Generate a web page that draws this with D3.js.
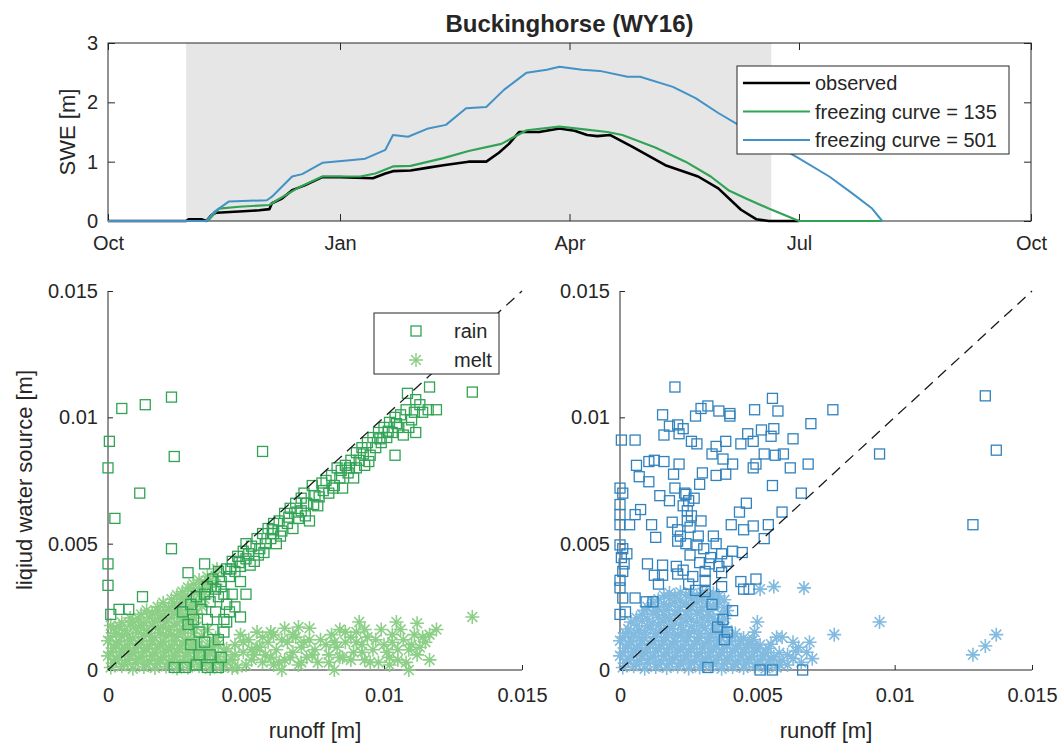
<!DOCTYPE html>
<html>
<head>
<meta charset="utf-8">
<script src="https://cdn.jsdelivr.net/npm/d3@7"></script>
<style>
body { margin: 0; background: #fff; }
svg text { font-family: "Liberation Sans", Arial, Helvetica, sans-serif; fill: #262626; }
</style>
</head>
<body>
<svg id="chart" width="1063" height="743"></svg>
<script>
// ---- top panel: SWE time series (m) ----
let monthTicks = ['2015-10-01', '2016-01-01', '2016-04-01', '2016-07-01', '2016-10-01'];
let monthLabels = ['Oct', 'Jan', 'Apr', 'Jul', 'Oct'];
let sweTicks = [0, 1, 2, 3];
let snowSeason = ['2015-11-01', '2016-06-20'];

let sweObserved = [['2015-10-01',0],['2015-11-01',0],['2015-11-02',0.03],['2015-11-07',0.03],['2015-11-09',0.0],['2015-11-11',0.1],['2015-11-13',0.14],['2015-11-22',0.16],['2015-11-30',0.18],['2015-12-04',0.2],['2015-12-05',0.3],['2015-12-09',0.38],['2015-12-13',0.52],['2015-12-18',0.6],['2015-12-25',0.74],['2016-01-01',0.74],['2016-01-14',0.72],['2016-01-19',0.8],['2016-01-22',0.84],['2016-01-29',0.85],['2016-02-05',0.9],['2016-02-11',0.94],['2016-02-21',1.0],['2016-02-28',1.0],['2016-03-04',1.15],['2016-03-08',1.3],['2016-03-12',1.5],['2016-03-20',1.5],['2016-03-28',1.56],['2016-04-03',1.52],['2016-04-08',1.45],['2016-04-12',1.43],['2016-04-17',1.45],['2016-04-26',1.25],['2016-05-09',0.94],['2016-05-22',0.75],['2016-05-30',0.55],['2016-06-08',0.19],['2016-06-14',0.03],['2016-06-19',0],['2016-07-01',0]];
let sweFc135 = [['2015-10-01',0],['2015-11-09',0],['2015-11-10',0.02],['2015-11-14',0.21],['2015-11-22',0.24],['2015-12-04',0.27],['2015-12-07',0.35],['2015-12-15',0.55],['2015-12-25',0.75],['2016-01-09',0.75],['2016-01-15',0.8],['2016-01-22',0.92],['2016-01-29',0.93],['2016-02-11',1.06],['2016-02-21',1.18],['2016-03-05',1.3],['2016-03-15',1.53],['2016-03-28',1.59],['2016-04-06',1.55],['2016-04-16',1.5],['2016-04-22',1.45],['2016-05-05',1.24],['2016-05-17',1.0],['2016-05-27',0.75],['2016-06-03',0.52],['2016-06-10',0.38],['2016-06-19',0.21],['2016-07-01',0],['2016-08-03',0]];
let sweFc501 = [['2015-10-01',0],['2015-11-09',0],['2015-11-12',0.15],['2015-11-18',0.33],['2015-12-03',0.35],['2015-12-05',0.41],['2015-12-13',0.75],['2015-12-17',0.79],['2015-12-25',0.98],['2016-01-06',1.03],['2016-01-11',1.05],['2016-01-19',1.2],['2016-01-22',1.45],['2016-01-28',1.42],['2016-02-05',1.56],['2016-02-12',1.62],['2016-02-20',1.9],['2016-02-28',1.92],['2016-03-06',2.21],['2016-03-15',2.5],['2016-03-23',2.55],['2016-03-28',2.6],['2016-04-06',2.55],['2016-04-13',2.53],['2016-04-24',2.43],['2016-04-29',2.43],['2016-05-12',2.26],['2016-05-21',2.07],['2016-05-30',1.82],['2016-06-07',1.62],['2016-06-30',1.08],['2016-07-13',0.75],['2016-07-22',0.47],['2016-07-30',0.21],['2016-08-03',0]];

// ---- bottom panels: runoff vs liquid water source, values in mm ----
let runoffTicks = [0, 5, 10, 15];
let runoffLabels = ['0', '0.005', '0.01', '0.015'];

let rain135 = [[0.5,10.35],[1.35,10.5],[2.3,10.8],[0.05,9.05],[0,8.0],[2.4,8.45],[1.15,7.0],[0.25,6.0],[5.6,8.65],[2.3,4.8],[0,4.2],[0,3.35],[2.9,3.85],[3.5,4.2],[1.25,2.9],[0.4,2.4],[0.75,2.4],[0.1,2.2],[13.2,11.0],[11.65,11.2],[10.85,10.95],[11.9,10.3],[11.6,10.3],[11.15,10.7],[11.15,9.4],[10.4,8.5],
  [3.6,3.3],[3.8,3.6],[3.9,3.2],[4.0,3.9],[4.1,3.5],[4.2,3.0],[4.3,4.0],[4.4,3.7],[4.5,4.3],[4.6,3.9],[4.7,4.5],[4.8,4.1],[4.9,4.7],[5.0,4.4],[5.0,5.0],[5.1,4.6],[5.2,4.9],[5.3,4.3],[5.4,5.2],[5.5,4.8],[5.6,5.4],[5.7,5.0],[5.8,5.6],[5.9,5.2],[6.0,5.8],[6.0,5.4],[6.1,5.0],[6.2,5.9],[6.3,5.5],[6.4,6.2],[6.5,5.8],[6.6,6.4],[6.7,5.6],[6.8,6.6],[6.9,6.0],[7.0,6.8],[7.0,6.3],[7.1,7.0],[7.2,6.6],[7.3,5.9],[7.4,7.3],[7.5,6.9],[7.6,6.5],[7.8,7.1],[7.9,7.5],[8.0,7.0],[8.1,7.7],[8.2,7.3],[8.3,8.0],[8.4,7.6],[8.5,7.2],[8.6,8.1],[8.7,7.8],[8.8,8.3],[8.9,7.6],[9.0,8.6],[9.0,8.0],[9.1,8.3],[9.2,8.8],[9.3,8.1],[9.4,9.0],[9.5,8.5],[9.6,9.2],[9.7,8.8],[9.8,9.4],[9.9,9.0],[10.0,9.6],[10.1,9.2],[10.2,9.8],[10.3,9.4],[10.4,10.0],[10.5,9.6],[10.6,10.1],[10.7,9.3],[10.8,10.3],[11.0,9.9],[11.1,10.2],[11.3,10.5],[11.4,10.2],
  [4.45,4.0],[4.75,4.25],[5.15,4.15],[5.45,4.55],[5.65,4.65],[5.95,5.55],[6.25,5.3],[6.55,6.05],[6.85,6.25],[7.15,6.1],[7.45,6.55],[7.75,7.4],[7.65,6.85],[8.15,7.2],[8.45,7.9],[8.75,8.0],[9.25,8.55],[9.45,8.25],[9.85,9.15],[10.15,9.45],[10.45,9.75],[10.9,9.6],
  [4.8,3.5],[5.0,3.0],[4.6,2.5],[4.5,3.0],[4.8,2.1],[4.4,2.3],[4.3,1.9],
  [3.0,2.6],[3.1,2.0],[3.2,2.9],[3.3,1.5],[3.4,2.4],[3.5,1.1],[3.5,3.0],[3.6,2.0],[3.7,2.7],[3.8,1.6],[3.9,2.3],[4.0,1.2],[4.0,2.9],[4.1,0.5],[4.2,2.0],[3.2,0.2],[3.6,0.1],[4.0,0.1],[2.8,0.1],[2.4,0.1],[3.0,1.0],[2.9,1.8],[3.7,0.6],[4.2,1.5],[4.3,2.6],[3.3,0.6],[2.7,2.3],[4.1,3.3]];

let melt135 = [[0.1,0.1],[0.5,0.15],[0.9,0.05],[1.3,0.12],[1.7,0.08],[2.1,0.14],[2.5,0.06],[2.9,0.1],[3.3,0.15],[3.7,0.05],[4.1,0.12],[4.5,0.08],
  [0.2,0.27],[0.6,0.23],[1.0,0.28],[1.4,0.22],[1.8,0.26],[2.2,0.24],[2.6,0.29],[3.0,0.22],[3.4,0.27],[3.8,0.25],[4.2,0.23],
  [0.3,0.42],[0.7,0.38],[1.1,0.45],[1.5,0.36],[1.9,0.43],[2.3,0.4],[2.7,0.35],[3.1,0.44],[3.5,0.38],[3.9,0.42],[4.3,0.36],
  [0.0,0.56],[0.4,0.53],[0.8,0.58],[1.2,0.54],[1.6,0.57],[2.0,0.52],[2.4,0.56],[2.8,0.55],[3.2,0.51],[3.6,0.57],[4.0,0.54],
  [0.1,0.7],[0.5,0.74],[0.9,0.66],[1.3,0.72],[1.7,0.68],[2.1,0.75],[2.5,0.7],[2.9,0.66],[3.3,0.73],[3.7,0.69],[4.2,0.72],
  [0.2,0.86],[0.6,0.83],[1.0,0.88],[1.4,0.84],[1.8,0.87],[2.2,0.82],[2.6,0.86],[3.0,0.85],[3.4,0.81],[3.8,0.87],[4.3,0.84],
  [0.3,1.02],[0.7,0.97],[1.1,1.04],[1.5,0.98],[1.9,1.03],[2.3,0.96],[2.7,1.0],[3.1,1.05],[3.6,0.98],[4.0,1.02],
  [0.0,1.16],[0.4,1.13],[0.8,1.18],[1.2,1.14],[1.6,1.17],[2.0,1.12],[2.4,1.16],[2.8,1.15],[3.2,1.11],[3.8,1.15],
  [0.1,1.3],[0.5,1.34],[0.9,1.27],[1.3,1.32],[1.7,1.28],[2.1,1.35],[2.5,1.3],[2.9,1.26],[3.4,1.33],[3.9,1.28],
  [0.3,1.46],[0.7,1.43],[1.1,1.48],[1.5,1.44],[1.9,1.47],[2.3,1.42],[2.7,1.46],[3.1,1.45],
  [0.2,1.62],[0.6,1.57],[1.0,1.64],[1.4,1.58],[1.8,1.63],[2.2,1.6],[2.6,1.56],[3.0,1.64],[3.6,1.6],
  [0.1,1.76],[0.4,1.73],[0.8,1.78],[1.2,1.74],[1.6,1.77],[2.0,1.72],[2.4,1.76],[2.8,1.75],[3.2,1.71],
  [0.5,1.88],[0.9,1.93],[1.3,1.87],[1.7,1.92],[2.1,1.9],[2.5,1.86],[2.9,1.94],
  [0.8,2.06],[1.1,2.03],[1.5,2.08],[1.9,2.04],[2.3,2.07],[2.7,2.02],[3.1,2.06],
  [1.2,2.2],[1.6,2.24],[2.0,2.17],[2.4,2.22],[2.8,2.18],[3.2,2.23],
  [1.4,2.36],[1.8,2.33],[2.2,2.38],[2.6,2.34],[3.0,2.37],
  [1.8,2.5],[2.2,2.46],[2.6,2.53],[3.0,2.49],[3.4,2.52],
  [2.0,2.66],[2.4,2.63],[2.8,2.68],[3.2,2.64],
  [2.3,2.8],[2.7,2.84],[3.1,2.77],[3.5,2.82],
  [2.5,2.96],[2.9,2.93],[3.3,2.98],
  [2.7,3.1],[3.1,3.13],[3.5,3.08],[2.9,3.26],[3.3,3.23],[3.7,3.28],[3.1,3.4],[3.5,3.43],[3.9,3.38],[3.3,3.56],[3.7,3.55],[3.6,3.7],[3.9,3.72],[3.95,4.0],
  [4.5,0.4],[4.6,1.0],[4.8,1.4],[4.9,0.7],[5.0,0.2],[5.1,1.2],[5.3,0.6],[5.4,1.5],[5.5,0.9],[5.6,0.3],[5.8,1.1],[5.9,0.5],[6.0,1.4],[6.1,0.8],[6.3,0.0],[6.4,1.65],[6.4,0.4],[6.5,1.1],[6.7,0.7],[6.8,1.3],[6.9,0.2],[7.0,0.9],[7.2,0.5],[7.3,1.65],[7.3,1.2],[7.5,0.8],[7.6,0.3],[7.9,1.0],[8.0,0.6],[8.1,1.4],[8.2,0.0],[8.3,0.9],[8.4,1.6],[8.5,0.5],[8.6,1.1],[8.9,0.7],[9.0,1.5],[9.1,1.9],[9.2,1.0],[9.3,0.4],[9.4,1.3],[9.6,0.8],[9.8,0.3],[10.0,1.0],[10.2,0.5],[10.3,1.4],[10.45,1.9],[10.5,0.8],[10.7,1.2],[10.8,0.3],[10.9,0.0],[11.0,1.0],[11.2,1.85],[11.2,0.6],[11.4,1.3],[11.65,1.4],[11.65,0.4],[11.9,1.6],[13.2,2.1],
  [4.7,0.1],[4.9,1.1],[5.2,0.4],[5.4,0.9],[5.7,0.6],[5.9,1.5],[6.2,0.3],[6.3,1.2],[6.6,0.5],[6.7,1.4],[7.0,0.3],[7.1,1.1],[7.4,0.6],[7.7,1.2],[8.0,0.3],[8.2,1.1],[8.4,0.5],[8.6,1.5],[8.8,0.4],[9.0,1.1],[9.2,0.7],[9.3,1.6],[9.5,0.3],[9.7,1.2],[10.1,0.7],[10.3,1.1],[10.5,0.4],[10.6,1.6],[10.9,0.8],[11.1,1.4],[11.3,0.9],[11.5,1.1],[4.6,0.6],[5.2,0.8],[5.6,1.3],[6.0,0.2],[6.9,1.7],[8.8,1.3],[9.9,1.6],[10.2,0.2]];

let rain501 = [[2.0,11.2],[5.55,10.75],[7.75,10.3],[4.9,10.3],[5.75,10.25],[3.2,10.45],[2.95,10.35],[2.75,10.05],[3.6,10.25],[4.0,10.05],[4.0,10.15],[1.55,10.1],[6.95,9.75],[13.3,10.85],[13.7,8.7],[9.45,8.55],[12.85,5.75],
  [0.05,9.1],[0.55,9.1],[1.8,9.65],[2.1,9.7],[2.3,9.55],[1.6,9.3],[2.15,9.35],[2.6,9.05],[2.8,8.95],[3.5,8.85],[3.85,9.05],[4.4,8.95],[4.65,9.35],[5.15,9.5],[5.6,9.55],[4.85,9.05],[5.5,9.25],[6.3,9.15],[3.35,8.55],[3.75,8.35],[4.1,8.15],[5.25,8.55],[5.65,8.5],[5.95,8.55],[4.95,8.15],[4.85,8.0],[6.2,8.0],[6.85,8.15],[0.6,8.1],[1.05,8.25],[1.25,8.3],[1.6,8.25],[2.15,8.15],[1.95,7.75],[3.0,7.8],[3.5,7.7],[3.85,7.75],[0.7,7.65],[1.05,7.45],[2.9,7.35],[5.55,7.3],[0,7.2],[0.1,7.0],[1.45,6.9],[1.8,6.7],[2.0,7.2],[2.4,6.95],[2.5,6.7],[2.7,6.8],[2.45,6.3],[2.45,5.9],[6.6,7.0],[4.6,6.6],[4.35,6.25],[5.9,6.25],[0.75,6.35],[0.55,6.15],[0,6.55],[0,6.15],[0,5.75],[0.35,5.75],[1.15,5.75],[1.3,5.25],[1.9,5.85],[2.1,5.55],[2.95,5.9],[4.05,5.75],[4.5,5.55],[5.4,5.75],[5.25,5.2],[4.85,5.7],
  [0.1,4.8],[0.25,4.6],[0.05,4.45],[2.1,5.1],[2.4,5.0],[2.8,4.95],[3.05,4.8],[3.5,5.0],[4.1,4.7],[4.45,4.65],[2.55,4.55],[3.3,4.45],[1.0,4.2],[1.55,4.15],[2.05,4.1],[2.3,3.95],[2.9,4.25],[3.6,4.1],[3.9,4.3],[0.1,3.9],[1.25,3.75],[1.55,3.75],[2.1,3.8],[2.65,3.7],[3.1,3.9],[3.7,3.85],[1.4,3.4],[2.5,3.4],[3.1,3.55],[4.4,3.5],[4.95,3.6],[4.5,3.2],[4.7,3.2],[0.0,3.25],[0.1,2.85],[0.55,2.85],[0.95,2.7],[1.2,2.7],[3.1,3.1],[3.7,3.3],[4.1,2.35],[3.75,2.0],[0,2.2],[0.2,2.3],[5.1,0],[5.55,0],[6.65,0],[3.8,1.2],[3.2,0.1],
  [2.3,6.5],[2.6,6.1],[2.35,7.0],[2.55,5.65],[2.2,5.3],[2.85,5.3],[3.4,5.3],[3.7,4.6],[3.25,4.2],[2.75,3.15],[3.35,2.6],[3.55,1.7],[3.9,1.5],[0.0,4.95],[0.15,4.2],[0.0,3.55]];

let melt501 = [[0.1,0.1],[0.5,0.15],[0.9,0.05],[1.3,0.12],[1.7,0.08],[2.1,0.14],[2.5,0.06],[2.9,0.1],[3.3,0.15],[3.7,0.05],[4.1,0.12],[4.5,0.08],[4.9,0.14],[5.3,0.06],[5.7,0.1],
  [0.2,0.27],[0.6,0.23],[1.0,0.28],[1.4,0.22],[1.8,0.26],[2.2,0.24],[2.6,0.29],[3.0,0.22],[3.4,0.27],[3.8,0.25],[4.2,0.23],[4.6,0.28],[5.0,0.24],[5.4,0.27],[5.8,0.22],
  [0.3,0.42],[0.7,0.38],[1.1,0.45],[1.5,0.36],[1.9,0.43],[2.3,0.4],[2.7,0.35],[3.1,0.44],[3.5,0.38],[3.9,0.42],[4.3,0.36],[4.7,0.43],[5.1,0.38],[5.5,0.42],[5.9,0.37],
  [0.0,0.56],[0.4,0.53],[0.8,0.58],[1.2,0.54],[1.6,0.57],[2.0,0.52],[2.4,0.56],[2.8,0.55],[3.2,0.51],[3.6,0.57],[4.0,0.54],[4.4,0.58],[4.8,0.53],[5.2,0.56],[5.6,0.52],
  [0.1,0.7],[0.5,0.74],[0.9,0.66],[1.3,0.72],[1.7,0.68],[2.1,0.75],[2.5,0.7],[2.9,0.66],[3.3,0.73],[3.7,0.69],[4.1,0.72],[4.5,0.67],[4.9,0.74],[5.3,0.7],[5.8,0.68],
  [0.2,0.86],[0.6,0.83],[1.0,0.88],[1.4,0.84],[1.8,0.87],[2.2,0.82],[2.6,0.86],[3.0,0.85],[3.4,0.81],[3.8,0.87],[4.2,0.84],[4.6,0.88],[5.0,0.83],[5.4,0.86],
  [0.3,1.02],[0.7,0.97],[1.1,1.04],[1.5,0.98],[1.9,1.03],[2.3,0.96],[2.7,1.0],[3.1,1.05],[3.5,0.98],[3.9,1.02],[4.3,0.97],[4.7,1.04],[5.1,0.99],[5.5,1.02],
  [0.0,1.16],[0.4,1.13],[0.8,1.18],[1.2,1.14],[1.6,1.17],[2.0,1.12],[2.4,1.16],[2.8,1.15],[3.2,1.11],[3.6,1.17],[4.0,1.14],[4.4,1.18],[4.8,1.13],
  [0.1,1.3],[0.5,1.34],[0.9,1.27],[1.3,1.32],[1.7,1.28],[2.1,1.35],[2.5,1.3],[2.9,1.26],[3.3,1.33],[3.7,1.28],[4.1,1.32],[4.5,1.27],
  [0.2,1.46],[0.5,1.43],[0.9,1.48],[1.3,1.44],[1.7,1.47],[2.1,1.42],[2.5,1.46],[2.9,1.45],[3.3,1.41],[3.7,1.47],[4.2,1.44],
  [0.3,1.62],[0.7,1.57],[1.1,1.64],[1.5,1.58],[1.9,1.63],[2.3,1.6],[2.7,1.56],[3.1,1.64],[3.5,1.6],[3.9,1.57],
  [0.6,1.76],[1.0,1.73],[1.4,1.78],[1.8,1.74],[2.2,1.77],[2.6,1.72],[3.0,1.76],[3.4,1.75],[3.8,1.71],
  [0.4,1.9],[0.8,1.94],[1.2,1.87],[1.6,1.92],[2.0,1.88],[2.4,1.93],[2.8,1.89],[3.2,1.95],[3.6,1.9],
  [0.6,2.06],[1.0,2.03],[1.4,2.08],[1.8,2.04],[2.2,2.07],[2.6,2.02],[3.0,2.06],[3.4,2.05],[3.8,2.04],
  [0.8,2.2],[1.2,2.24],[1.6,2.17],[2.0,2.22],[2.4,2.18],[2.8,2.23],[3.2,2.19],[3.7,2.21],
  [0.9,2.36],[1.3,2.33],[1.7,2.38],[2.1,2.34],[2.5,2.37],[2.9,2.32],[3.3,2.36],[3.9,2.35],
  [1.0,2.5],[1.4,2.46],[1.8,2.53],[2.2,2.49],[2.6,2.52],[3.0,2.47],[3.4,2.51],[3.8,2.48],
  [1.2,2.66],[1.6,2.63],[2.0,2.68],[2.4,2.64],[2.8,2.67],[3.2,2.62],[3.6,2.66],
  [1.4,2.8],[1.8,2.84],[2.2,2.77],[2.6,2.82],[3.0,2.79],[3.4,2.83],[3.8,2.78],
  [1.6,2.95],[2.0,2.93],[2.4,2.98],[2.8,2.94],[3.2,2.97],[3.6,2.93],
  [1.8,3.05],[2.2,3.08],[2.6,3.03],[3.0,3.07],[3.4,3.04],
  [5.1,3.2],[5.6,3.3],[6.7,3.25],[5.0,1.9],[4.85,1.2],[6.3,1.1],[6.9,1.1],[7.0,0.45],[6.4,0.75],[7.8,1.4],[9.45,1.9],[12.85,0.6],[13.3,0.95],[13.7,1.4],[6.1,0.6],[5.9,1.3],
  [6.1,0.2],[6.3,0.45],[6.6,0.3],[6.5,0.9],[5.7,1.3],[4.9,1.5],[6.8,0.7]];

let axisColor = '#262626';
let parseDate = d3.utcParse('%Y-%m-%d');
let svg = d3.select('svg#chart');

let topBox = { left: 108, right: 1031, top: 43, bottom: 221 };

function styleAxis(g, size) {
	g.select('.domain').remove();
	g.selectAll('line').attr('stroke', axisColor);
	g.selectAll('text').style('font-size', size + 'px').style('fill', axisColor);
}

function drawTop() {
	let x = d3.scaleUtc([parseDate('2015-10-01'), parseDate('2016-10-01')], [topBox.left, topBox.right]);
	let y = d3.scaleLinear([0, 3], [topBox.bottom, topBox.top]);
	let g = svg.append('g');

	g.append('rect')
		.attr('x', x(parseDate(snowSeason[0])))
		.attr('y', topBox.top)
		.attr('width', x(parseDate(snowSeason[1])) - x(parseDate(snowSeason[0])))
		.attr('height', topBox.bottom - topBox.top)
		.attr('fill', '#e6e6e6');

	let tickDates = monthTicks.map(parseDate);
	g.append('g').attr('transform', 'translate(0,' + topBox.bottom + ')')
		.call(d3.axisBottom(x).tickValues(tickDates).tickFormat((d, i) => monthLabels[i]).tickSizeInner(-7).tickSizeOuter(0).tickPadding(15))
		.call(a => styleAxis(a, 20));
	g.append('g').attr('transform', 'translate(0,' + topBox.top + ')')
		.call(d3.axisTop(x).tickValues(tickDates).tickFormat('').tickSizeInner(-7).tickSizeOuter(0))
		.call(a => styleAxis(a, 20));
	g.append('g').attr('transform', 'translate(' + topBox.left + ',0)')
		.call(d3.axisLeft(y).tickValues(sweTicks).tickFormat(d3.format('d')).tickSizeInner(-7).tickSizeOuter(0).tickPadding(10))
		.call(a => styleAxis(a, 20));
	g.append('g').attr('transform', 'translate(' + topBox.right + ',0)')
		.call(d3.axisRight(y).tickValues(sweTicks).tickFormat('').tickSizeInner(-7).tickSizeOuter(0))
		.call(a => styleAxis(a, 20));

	g.append('rect')
		.attr('x', topBox.left).attr('y', topBox.top)
		.attr('width', topBox.right - topBox.left).attr('height', topBox.bottom - topBox.top)
		.attr('fill', 'none').attr('stroke', axisColor).attr('stroke-width', 1);

	let line = d3.line()
		.x(d => x(parseDate(d[0])))
		.y(d => y(d[1]));

	let series = [
		{ name: 'observed', data: sweObserved, color: '#000000', width: 2.6 },
		{ name: 'freezing curve = 135', data: sweFc135, color: '#31a354', width: 2.2 },
		{ name: 'freezing curve = 501', data: sweFc501, color: '#4292c6', width: 2 }
	];
	g.selectAll('path.swe')
		.data(series)
		.join('path')
		.attr('class', 'swe')
		.attr('d', d => line(d.data))
		.attr('fill', 'none')
		.attr('stroke', d => d.color)
		.attr('stroke-width', d => d.width)
		.attr('stroke-linejoin', 'round');

	// legend
	let lg = g.append('g');
	lg.append('rect').attr('x', 737).attr('y', 66).attr('width', 272).attr('height', 88)
		.attr('fill', '#fff').attr('stroke', axisColor).attr('stroke-width', 1);
	series.forEach(function (s, i) {
		let ly = 83 + i * 28.5;
		lg.append('line').attr('x1', 743).attr('x2', 810).attr('y1', ly).attr('y2', ly)
			.attr('stroke', s.color).attr('stroke-width', s.width);
		lg.append('text').attr('x', 815).attr('y', ly).attr('dy', '0.35em')
			.style('font-size', '20px').text(s.name);
	});

	svg.append('text').attr('x', (topBox.left + topBox.right) / 2).attr('y', 32)
		.attr('text-anchor', 'middle').style('font-size', '24px').style('font-weight', 'bold')
		.text('Buckinghorse (WY16)');
	svg.append('text').attr('transform', 'translate(75,' + (topBox.top + topBox.bottom) / 2 + ') rotate(-90)')
		.attr('text-anchor', 'middle').style('font-size', '22px').text('SWE [m]');
}

function starPath(r) {
	let a = r * 0.707;
	return 'M' + (-r) + ',0L' + r + ',0M0,' + (-r) + 'L0,' + r +
		'M' + (-a) + ',' + (-a) + 'L' + a + ',' + a + 'M' + (-a) + ',' + a + 'L' + a + ',' + (-a);
}

function drawScatter(left, right, rain, melt, rainColor, meltColor, withLegend) {
	let x = d3.scaleLinear([0, 15], [left, right]);
	let y = d3.scaleLinear([0, 15], [670, 291]);
	let g = svg.append('g');

	g.append('g').attr('transform', 'translate(0,670)')
		.call(d3.axisBottom(x).tickValues(runoffTicks).tickFormat((d, i) => runoffLabels[i]).tickSizeInner(-5).tickSizeOuter(0).tickPadding(18))
		.call(a => styleAxis(a, 20));
	g.append('g').attr('transform', 'translate(' + left + ',0)')
		.call(d3.axisLeft(y).tickValues(runoffTicks).tickFormat((d, i) => runoffLabels[i]).tickSizeInner(-5).tickSizeOuter(0).tickPadding(10))
		.call(a => styleAxis(a, 20));
	g.append('line').attr('x1', left).attr('x2', right).attr('y1', 670).attr('y2', 670).attr('stroke', axisColor);
	g.append('line').attr('x1', left).attr('x2', left).attr('y1', 670).attr('y2', 291).attr('stroke', axisColor);

	g.append('g').selectAll('path')
		.data(melt)
		.join('path')
		.attr('transform', d => 'translate(' + x(d[0]) + ',' + y(d[1]) + ')')
		.attr('d', starPath(7))
		.attr('fill', 'none')
		.attr('stroke', meltColor)
		.attr('stroke-width', 1.6);

	g.append('g').selectAll('rect')
		.data(rain)
		.join('rect')
		.attr('x', d => x(d[0]) - 5)
		.attr('y', d => y(d[1]) - 5)
		.attr('width', 10).attr('height', 10)
		.attr('fill', 'none')
		.attr('stroke', rainColor)
		.attr('stroke-width', 1.3);

	g.append('line')
		.attr('x1', x(0)).attr('y1', y(0)).attr('x2', x(15)).attr('y2', y(15))
		.attr('stroke', '#1a1a1a').attr('stroke-width', 1.3).attr('stroke-dasharray', '11,7');

	g.append('text').attr('x', (left + right) / 2).attr('y', 738)
		.attr('text-anchor', 'middle').style('font-size', '22px').text('runoff [m]');

	if (withLegend) {
		let lg = g.append('g');
		lg.append('rect').attr('x', 374).attr('y', 313).attr('width', 125).attr('height', 61)
			.attr('fill', '#fff').attr('stroke', axisColor).attr('stroke-width', 1);
		lg.append('rect').attr('x', 411).attr('y', 326).attr('width', 10).attr('height', 10)
			.attr('fill', 'none').attr('stroke', rainColor).attr('stroke-width', 1.3);
		lg.append('path').attr('transform', 'translate(416,360)').attr('d', starPath(7))
			.attr('fill', 'none').attr('stroke', meltColor).attr('stroke-width', 1.4);
		lg.append('text').attr('x', 454).attr('y', 331).attr('dy', '0.35em').style('font-size', '20px').text('rain');
		lg.append('text').attr('x', 454).attr('y', 360).attr('dy', '0.35em').style('font-size', '20px').text('melt');
		svg.append('text').attr('transform', 'translate(32,480) rotate(-90)')
			.attr('text-anchor', 'middle').style('font-size', '22px').text('liqiud water source [m]');
	}
}

drawTop();
drawScatter(108, 522, rain135, melt135, '#31a354', '#8ccf87', true);
drawScatter(620, 1032, rain501, melt501, '#3182bd', '#82bbdf', false);
</script>
</body>
</html>
